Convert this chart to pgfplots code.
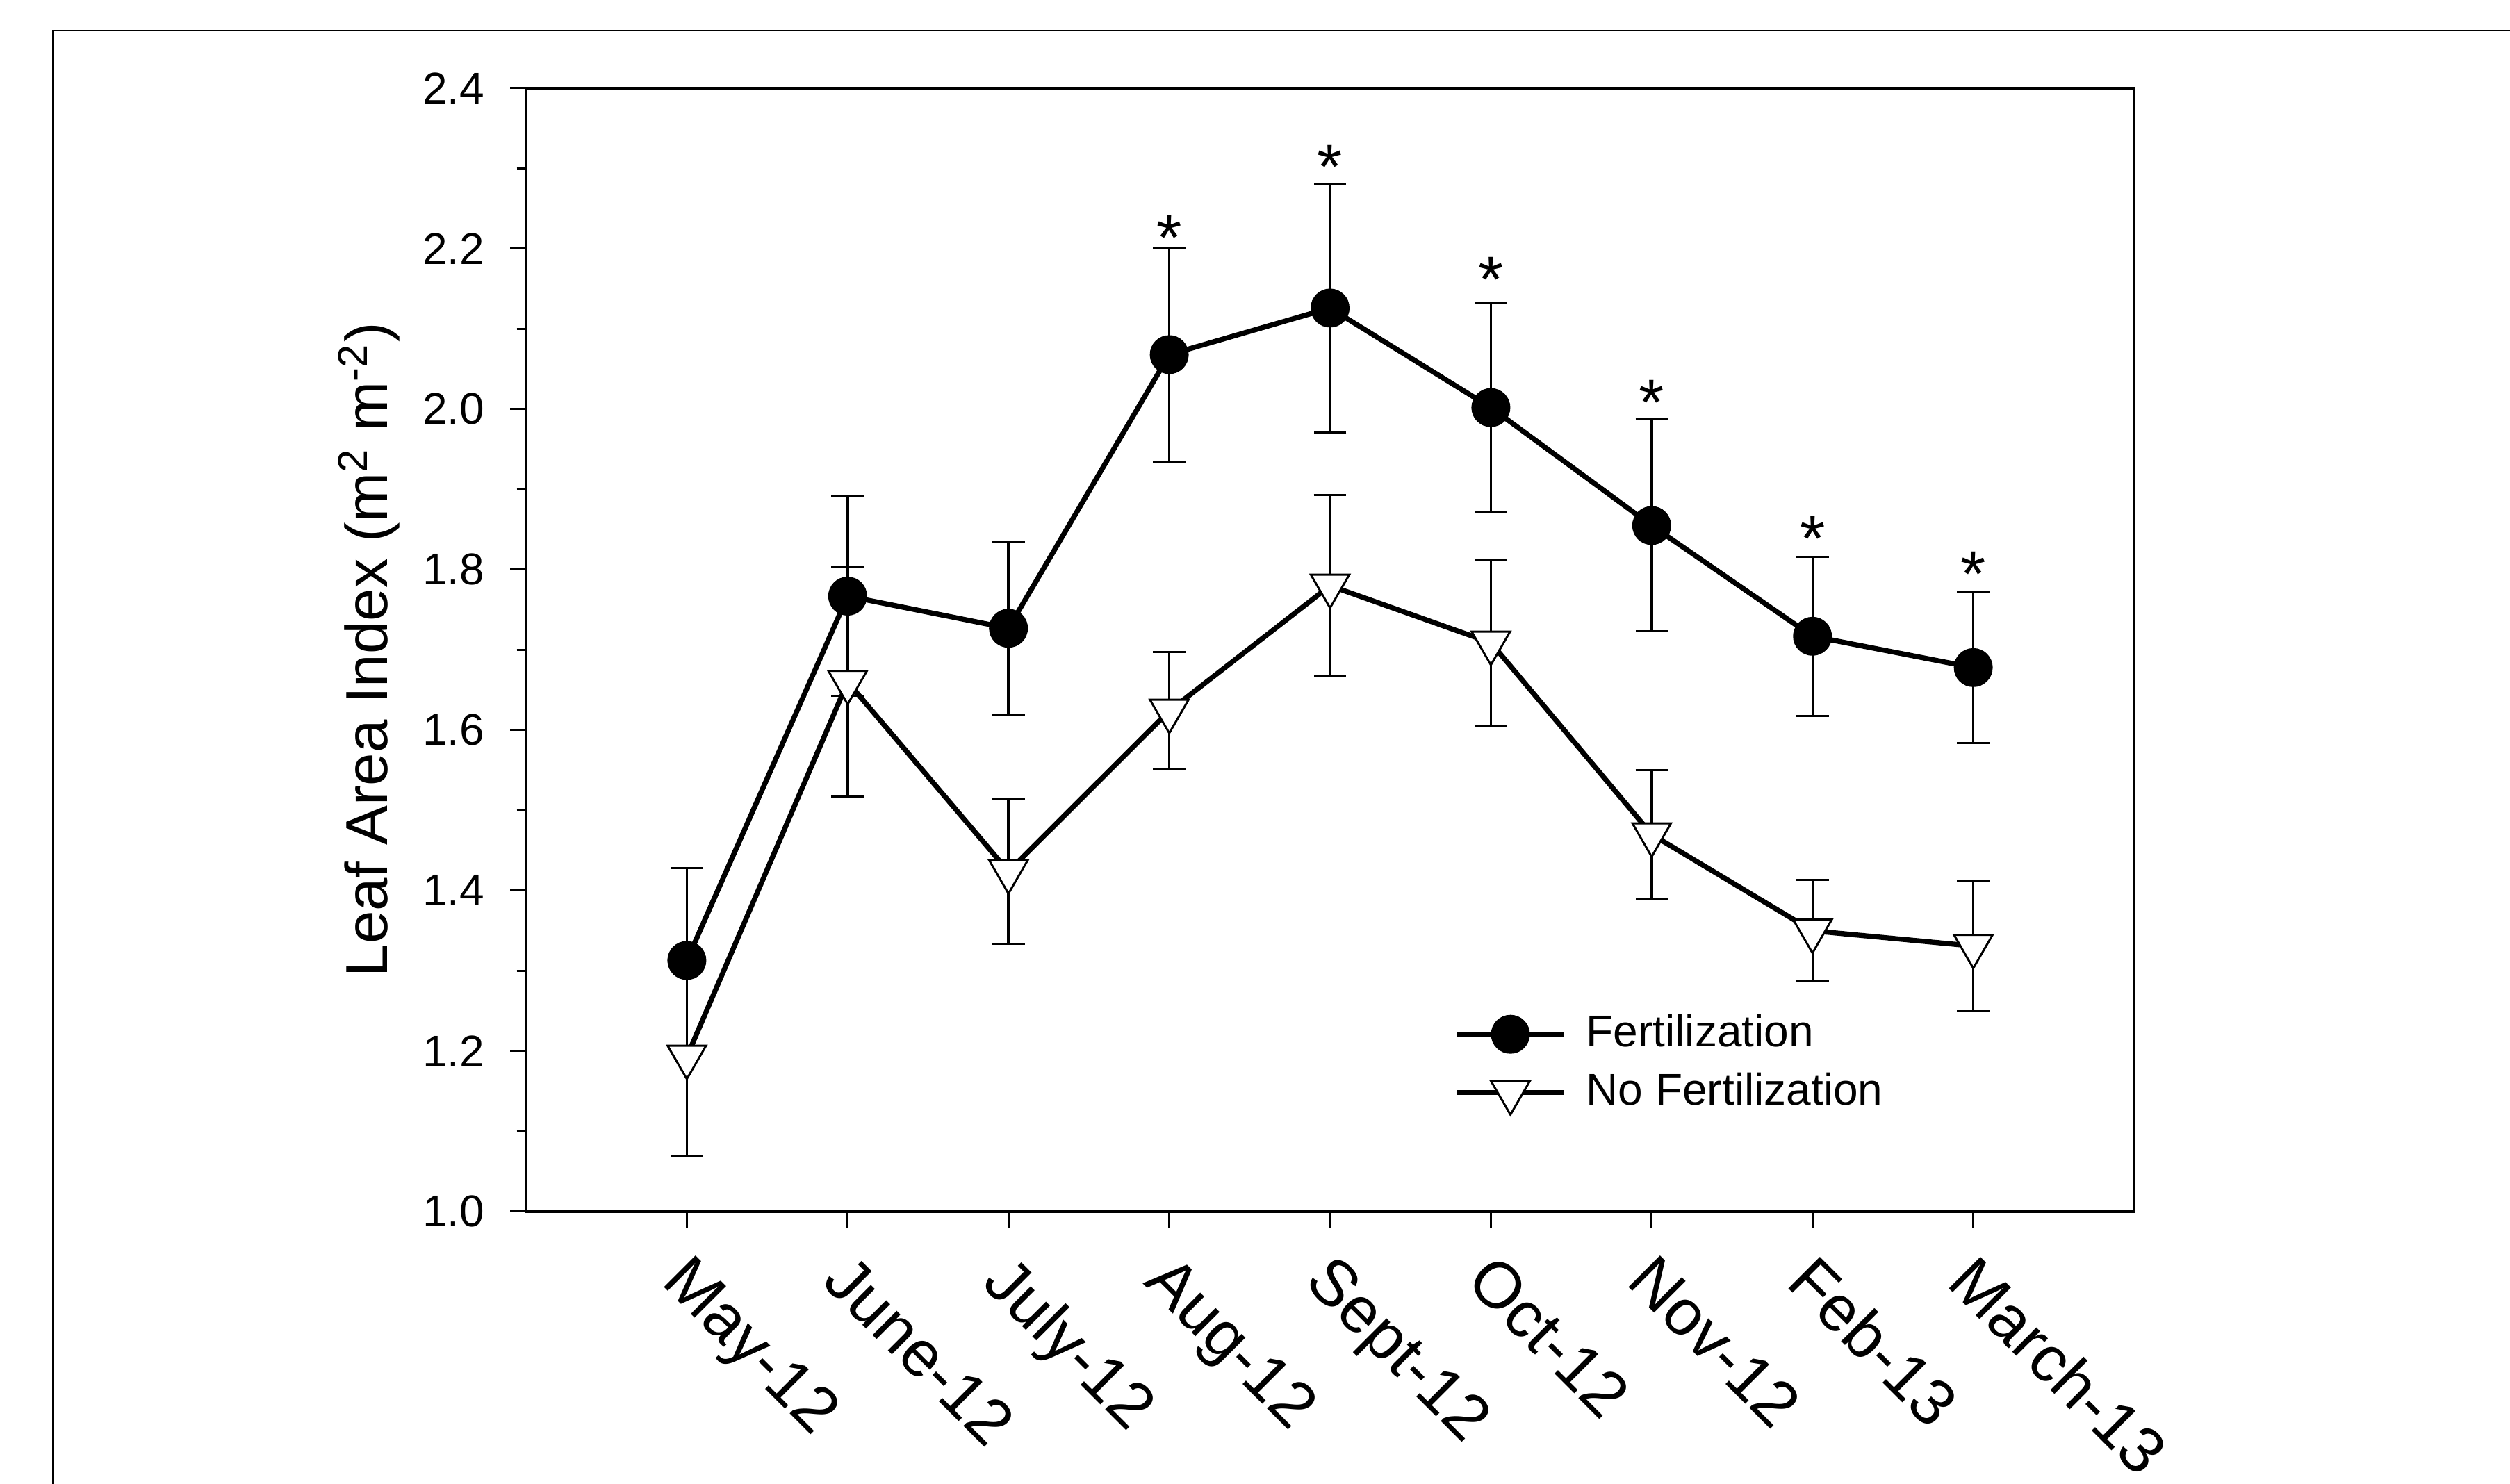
\documentclass[border=0pt]{standalone}
\usepackage{fontspec}
\setmainfont{Liberation Sans}
\usepackage{pgfplots}
\pgfplotsset{compat=1.18}
\usepackage{pgfplotstable}

% leaf area index, mean and SE
\pgfplotstableread{
x y e
0 1.313 0.115
1 1.767 0.124
2 1.727 0.108
3 2.068 0.133
4 2.126 0.155
5 2.002 0.130
6 1.855 0.132
7 1.717 0.099
8 1.678 0.094
}\fert
\pgfplotstableread{
x y e
0 1.193 0.123
1 1.660 0.143
2 1.424 0.090
3 1.624 0.073
4 1.780 0.113
5 1.709 0.103
6 1.470 0.080
7 1.350 0.063
8 1.331 0.081
}\nofert
% significance marks
\pgfplotstableread{
x y
3 2.232
4 2.320
5 2.180
6 2.027
7 1.857
8 1.813
}\stars

\begin{document}
\begin{tikzpicture}
% 1 px of the reference = 0.15pt
\path[use as bounding box] (0pt,0pt) rectangle (541.8pt,320.4pt);
\draw[line width=0.3pt] (11.4pt,-20pt) -- (11.4pt,313.8pt) -- (600pt,313.8pt);
\begin{axis}[
    at={(113.55pt,58.8pt)}, anchor=south west,
    scale only axis, width=347.1pt, height=242.55pt,
    xmin=-1, xmax=9, ymin=1, ymax=2.4,
    xtick={0,...,8},
    xticklabels={May-12,June-12,July-12,Aug-12,Sept-12,Oct-12,Nov-12,Feb-13,March-13},
    ytick={1,1.2,1.4,1.6,1.8,2,2.2,2.4},
    minor y tick num=1,
    xtick pos=bottom, ytick pos=left,
    tick align=outside,
    major tick length=3.4pt, minor tick length=2pt,
    every tick/.style={black, line width=0.45pt},
    axis line style={line width=0.52pt},
    /pgf/number format/assume math mode=true,
    /pgf/number format/fixed, /pgf/number format/precision=1,
    /pgf/number format/fixed zerofill,
    yticklabel style={font=\fontsize{9.6}{11}\selectfont, inner sep=0pt, xshift=-5.4pt},
    xticklabel style={font=\fontsize{14}{16}\selectfont, inner sep=0pt,
        xshift=1.2pt, yshift=-5pt, rotate=-45, anchor=north west},
    ylabel={Leaf Area Index (m\textsuperscript{2} m\textsuperscript{-2})},
    every axis y label/.style={at={(axis description cs:-0.0864,0.5)},
        anchor=base, rotate=90, font=\fontsize{12.8}{15}\selectfont},
    legend style={draw=none, fill=none, at={(rel axis cs:0.5765,0.1308)},
        anchor=west, inner sep=0pt, column sep=4.2pt, row sep=4.1pt,
        font=\fontsize{9.6}{11}\selectfont, nodes={inner sep=0pt}},
    legend cell align=left,
    legend image code/.code={
        \draw[mark repeat=2, mark phase=2, #1]
            plot coordinates {(0pt,0pt) (11.625pt,0pt) (23.25pt,0pt)};
    },
    error bars/error bar style={line width=0.52pt},
    error bars/error mark options={line width=0.45pt, mark size=3.5pt, rotate=90},
]
\addplot[black, line width=1.1pt, mark=*, mark size=4pt,
    mark options={solid, fill=black, line width=0.4pt},
    error bars/.cd, y dir=both, y explicit]
    table[x=x, y=y, y error=e] {\fert};
\addlegendentry{Fertilization}
\addplot[black, line width=1.1pt, mark=triangle*, mark size=4.8pt,
    mark options={solid, fill=white, line width=0.45pt, rotate=180},
    error bars/.cd, y dir=both, y explicit]
    table[x=x, y=y, y error=e] {\nofert};
\addlegendentry{No Fertilization}
\addplot[draw=none, mark=none, forget plot,
    nodes near coords={*},
    every node near coord/.style={anchor=base, inner sep=0pt, yshift=-8pt,
        font=\fontsize{14}{16}\selectfont}]
    table[x=x, y=y] {\stars};
\end{axis}
\end{tikzpicture}
\end{document}
